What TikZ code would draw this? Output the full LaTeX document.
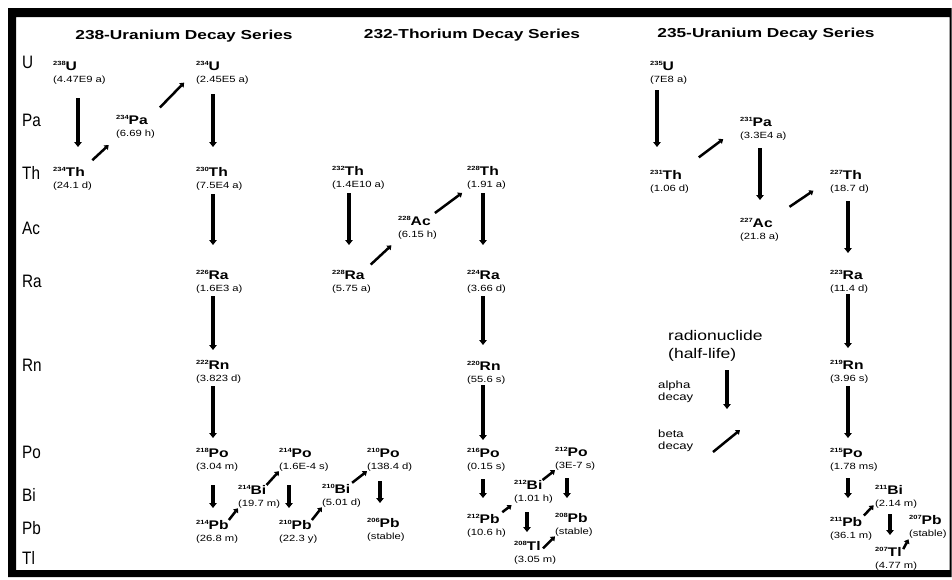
\documentclass[tikz,border=0pt]{standalone}
\usepackage{fontspec}
\setmainfont{Liberation Sans}
\newfontfamily\widefont[FakeStretch=1.25]{Liberation Sans}
\newfontfamily\titlefont[FakeStretch=1.33]{Liberation Sans}
\newfontfamily\rowfont[FakeStretch=0.85]{Liberation Sans}
\usetikzlibrary{arrows.meta}
\tikzset{
    element/.style={anchor=west,inner sep=0pt,font=\rowfont\fontsize{18}{18}\selectfont},
    series/.style={inner sep=0pt,font=\titlefont\bfseries\fontsize{13}{13}\selectfont},
    nuclide/.style={anchor=north west,inner sep=0pt,font=\widefont\bfseries\fontsize{12.5}{12.5}\selectfont},
    halflife/.style={anchor=north west,inner sep=0pt,yshift=-5pt,font=\widefont\fontsize{9}{9}\selectfont},
    legendtext/.style={anchor=north west,align=left,inner sep=0pt,font=\widefont\fontsize{10.5}{12}\selectfont},
    alphadecay/.style={line width=4pt,-{Triangle[length=5pt,width=7.5pt]}},
    betadecay/.style={line width=2.5pt,-{Triangle[length=4pt,width=6pt]}}
}
\newcommand{\iso}[2]{{\fontsize{6}{6}\selectfont\raisebox{4.7pt}{#1}}#2}

\begin{document}
\begin{tikzpicture}[x=1pt,y=-1pt]
\useasboundingbox (0,0) rectangle (952,579);
\fill[white] (0,0) rectangle (952,579);
\fill[black,even odd rule] (8,8) rectangle (951.5,577) (16,17) rectangle (949.5,570);

\node[series] (uraniumtitle) at (184,36) {238-Uranium Decay Series};
\node[series] (thoriumtitle) at (472,35) {232-Thorium Decay Series};
\node[series] (actiniumtitle) at (766,34) {235-Uranium Decay Series};

\foreach \el/\y in {U/62,Pa/120,Th/173,Ac/228,Ra/281,Rn/365,Po/452,Bi/495,Pb/528,Tl/558}
    \node[element] (row\el) at (22,\y) {\el};

% nuclides: name / x / y / mass / symbol / half-life
\foreach \name/\x/\y/\mass/\sym/\life in {
    u238/53/61/238/U/4.47E9 a, th234/53/167/234/Th/24.1 d, pa234/116/115/234/Pa/6.69 h,
    u234/196/61/234/U/2.45E5 a, th230/196/167/230/Th/7.5E4 a, ra226/196/270/226/Ra/1.6E3 a,
    rn222/196/360/222/Rn/3.823 d, po218/196/448/218/Po/3.04 m, pb214/196/520/214/Pb/26.8 m,
    bi214/238/485/214/Bi/19.7 m, po214/279/448/214/Po/1.6E-4 s, pb210/279/520/210/Pb/22.3 y,
    bi210/322/484/210/Bi/5.01 d, po210/367/448/210/Po/138.4 d, pb206/367/518/206/Pb/stable,
    th232/332/166/232/Th/1.4E10 a, ra228/332/270/228/Ra/5.75 a, ac228/398/216/228/Ac/6.15 h,
    th228/467/166/228/Th/1.91 a, ra224/467/270/224/Ra/3.66 d, rn220/467/361/220/Rn/55.6 s,
    po216/467/448/216/Po/0.15 s, pb212/467/514/212/Pb/10.6 h, bi212/514/480/212/Bi/1.01 h,
    po212/555/447/212/Po/3E-7 s, pb208/555/513/208/Pb/stable, tl208/514/541/208/Tl/3.05 m,
    u235/650/61/235/U/7E8 a, th231/650/170/231/Th/1.06 d, pa231/740/117/231/Pa/3.3E4 a,
    ac227/740/218/227/Ac/21.8 a, th227/830/170/227/Th/18.7 d, ra223/830/270/223/Ra/11.4 d,
    rn219/830/360/219/Rn/3.96 s, po215/830/448/215/Po/1.78 ms, pb211/830/517/211/Pb/36.1 m,
    bi211/875/485/211/Bi/2.14 m, tl207/875/547/207/Tl/4.77 m, pb207/909/515/207/Pb/stable}
    {\node[nuclide] (\name) at (\x,\y) {\iso{\mass}{\sym}};
     \node[halflife] (\name-hl) at (\name.south west) {(\life)};}

% alpha decays: parent / daughter / xshift / shorten start / shorten end
\foreach \a/\b/\dx/\s/\e in {
    u238/th234/25/14/20, u234/th230/17/10/20, th230/ra226/17/4/25, ra226/rn222/17/3/10,
    rn222/po218/17/3/10, po218/pb214/17/14/12, po214/pb210/10/14/12, po210/pb206/13/10/15,
    th232/ra228/17/4/25, th228/ra224/16/4/25, ra224/rn220/16/3/16, rn220/po216/16/1/8,
    po216/pb212/16/8/16, bi212/tl208/13/9/9, po212/pb208/12/8/15,
    u235/th231/7/6/23, pa231/ac227/20/8/18, th227/ra223/18/8/17, ra223/rn219/18/1/12,
    rn219/po215/18/3/10, po215/pb211/18/7/19, bi211/tl207/15/6/12}
    \draw[alphadecay,shorten <=\s pt,shorten >=\e pt]
        ([xshift=\dx pt]\a-hl.south west) -- ([xshift=\dx pt]\b.north west);

% beta decays
\draw[betadecay,shorten <=10pt,shorten >=10pt] (th234.north east) -- (pa234-hl.south west);
\draw[betadecay,shorten <=17pt,shorten >=17pt] (pa234.east) -- (u234.south west);
\draw[betadecay] (pb214.north east) -- (bi214-hl.south west);
\draw[betadecay] (bi214.north east) -- (po214-hl.south west);
\draw[betadecay] (pb210.north east) -- (bi210-hl.south west);
\draw[betadecay,shorten <=2pt] (bi210.north east) -- (po210-hl.south west);
\draw[betadecay,shorten <=8pt,shorten >=9pt] (ra228.north east) -- (ac228-hl.south west);
\draw[betadecay,shorten <=5pt,shorten >=6pt] (ac228.north east) -- (th228-hl.south west);
\draw[betadecay,shorten <=3pt,shorten >=3pt] (pb212.north east) -- (bi212-hl.south west);
\draw[betadecay] (bi212.north east) -- (po212-hl.south west);
\draw[betadecay,shorten <=3pt] (tl208.south east) -- (pb208-hl.south west);
\draw[betadecay,shorten <=21pt,shorten >=21pt] (th231.north east) -- (pa231.south west);
\draw[betadecay,shorten <=20pt,shorten >=20pt] (ac227.north east) -- (th227.south west);
\draw[betadecay,shorten <=2pt,shorten >=2pt] (pb211.north east) -- (bi211-hl.west);
\draw[betadecay,shorten <=3pt,shorten >=1pt] (tl207.east) -- (pb207-hl.south west);

% legend
\node[legendtext,font=\widefont\fontsize{14}{18}\selectfont] (legendnuclide) at (668,330) {radionuclide\\(half-life)};
\node[legendtext] (legendalpha) at (658,381) {alpha\\decay};
\node[legendtext] (legendbeta) at (658,430) {beta\\decay};
\coordinate (alphatop) at (727,370);
\coordinate (alphabottom) at (727,409);
\coordinate (betastart) at (713,452);
\coordinate (betaend) at (740,430);
\draw[alphadecay] (alphatop) -- (alphabottom);
\draw[betadecay] (betastart) -- (betaend);
\end{tikzpicture}
\end{document}
